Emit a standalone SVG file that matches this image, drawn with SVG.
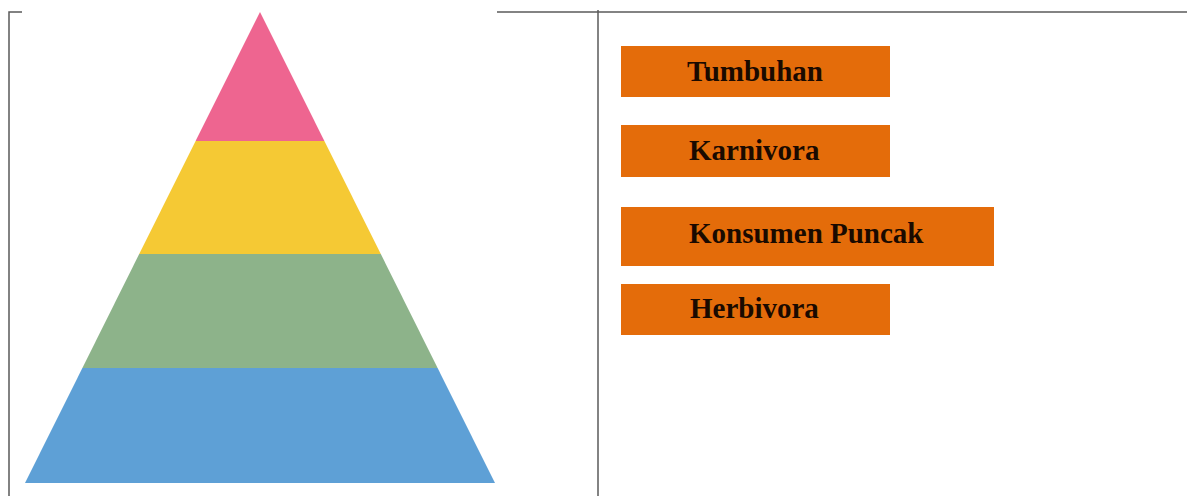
<svg xmlns="http://www.w3.org/2000/svg" width="1187" height="496" viewBox="0 0 1187 496">
<style>
.frame{stroke:#5a5a5a;stroke-width:1.5;fill:none}
.box{fill:#E46C0A}
.lbl{font-family:"Liberation Serif","Times New Roman",serif;font-weight:bold;font-size:29px;fill:#1a0a00}
</style>
<rect width="1187" height="496" fill="#ffffff"/>
<g id="frame">
<path class="frame" d="M9,496 V12 H22"/>
<path class="frame" d="M497,12 H1187"/>
<path class="frame" d="M598,10 V496"/>
</g>
<g id="pyramid">
<polygon id="level-top" points="260,12 324.4,141 195.6,141" fill="#EE6590"/>
<polygon id="level-2" points="195.6,141 324.4,141 380.8,254 139.2,254" fill="#F5C934"/>
<polygon id="level-3" points="139.2,254 380.8,254 437.6,368 82.4,368" fill="#8DB38A"/>
<polygon id="level-base" points="82.4,368 437.6,368 495,483 25,483" fill="#5EA0D6"/>
</g>
<g id="node-tumbuhan"><rect class="box" x="621" y="46" width="269" height="51"/><text class="lbl" x="687" y="81">Tumbuhan</text></g>
<g id="node-karnivora"><rect class="box" x="621" y="125" width="269" height="52"/><text class="lbl" x="689" y="160">Karnivora</text></g>
<g id="node-konsumen"><rect class="box" x="621" y="207" width="373" height="59"/><text class="lbl" x="689" y="243">Konsumen Puncak</text></g>
<g id="node-herbivora"><rect class="box" x="621" y="284" width="269" height="51"/><text class="lbl" x="690" y="318">Herbivora</text></g>
<g id="connectors"></g>
</svg>
